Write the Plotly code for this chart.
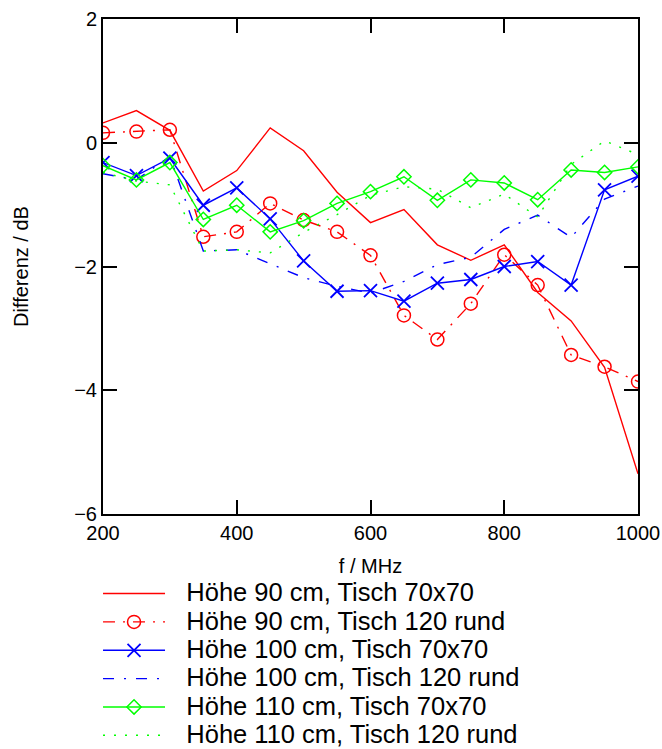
import plotly.graph_objects as go

# Frequency points (MHz)
freq = [200, 250, 300, 350, 400, 450, 500, 550, 600, 650, 700, 750, 800, 850, 900, 950, 1000]

# Level difference in dB for each height / table configuration
h90_t70 = [0.32, 0.52, 0.20, -0.78, -0.45, 0.24, -0.13, -0.80, -1.29, -1.08, -1.65, -1.90, -1.65, -2.42, -2.88, -3.63, -5.35]
h90_t120 = [0.16, 0.18, 0.21, -1.52, -1.44, -0.98, -1.25, -1.44, -1.82, -2.79, -3.18, -2.60, -1.81, -2.30, -3.43, -3.62, -3.86]
h100_t70 = [-0.32, -0.53, -0.25, -1.01, -0.73, -1.23, -1.91, -2.40, -2.39, -2.56, -2.27, -2.21, -2.00, -1.92, -2.30, -0.76, -0.54]
h100_t120 = [-0.50, -0.60, -0.22, -1.75, -1.73, -1.96, -2.18, -2.32, -2.43, -2.24, -1.97, -1.85, -1.40, -1.17, -1.53, -0.91, -0.70]
h110_t70 = [-0.37, -0.60, -0.32, -1.24, -1.01, -1.44, -1.26, -0.98, -0.79, -0.55, -0.93, -0.60, -0.65, -0.92, -0.44, -0.48, -0.39]
h110_t120 = [-0.48, -0.62, -0.68, -1.75, -1.73, -1.78, -1.45, -1.16, -0.85, -0.71, -0.75, -1.05, -0.83, -1.20, -0.35, 0.03, -0.19]

names = [
    "Höhe 90 cm, Tisch 70x70",
    "Höhe 90 cm, Tisch 120 rund",
    "Höhe 100 cm, Tisch 70x70",
    "Höhe 100 cm, Tisch 120 rund",
    "Höhe 110 cm, Tisch 70x70",
    "Höhe 110 cm, Tisch 120 rund",
]

x_ticks = [200, 400, 600, 800, 1000]
y_ticks = [2, 0, -2, -4, -6]

RED = "#ff0000"
BLUE = "#0000ff"
GREEN = "#00ff00"
FONT = "Liberation Sans, Arial, sans-serif"


def legend_label(text):
    # larger legend text while keeping the compact row spacing of the legend font
    return "\u00a0\u00a0\u00a0<span style='font-size:25.5px'>" + text + "</span>"


fig = go.Figure()

fig.add_trace(go.Scatter(
    x=freq, y=h90_t70, name=legend_label(names[0]), mode="lines",
    line=dict(color=RED, width=1.4)))
fig.add_trace(go.Scatter(
    x=freq, y=h90_t120, name=legend_label(names[1]), mode="lines+markers",
    line=dict(color=RED, width=1.4, dash="12px,8px,2px,8px"),
    marker=dict(symbol="circle-open", size=13, color=RED, line=dict(width=1.5))))
fig.add_trace(go.Scatter(
    x=freq, y=h100_t70, name=legend_label(names[2]), mode="lines+markers",
    line=dict(color=BLUE, width=1.4),
    marker=dict(symbol="x-thin-open", size=13, color=BLUE, line=dict(width=1.8, color=BLUE))))
fig.add_trace(go.Scatter(
    x=freq, y=h100_t120, name=legend_label(names[3]), mode="lines",
    line=dict(color=BLUE, width=1.4, dash="11px,10px,2px,10px")))
fig.add_trace(go.Scatter(
    x=freq, y=h110_t70, name=legend_label(names[4]), mode="lines+markers",
    line=dict(color=GREEN, width=1.4),
    marker=dict(symbol="diamond-open", size=11, color=GREEN, line=dict(width=1.5))))
fig.add_trace(go.Scatter(
    x=freq, y=h110_t120, name=legend_label(names[5]), mode="lines",
    line=dict(color=GREEN, width=1.4, dash="2px,9px")))

axis_common = dict(
    showgrid=False, zeroline=False,
    showline=True, linecolor="black", linewidth=2, mirror="ticks",
    ticks="inside", ticklen=14, tickwidth=1.5, tickcolor="black",
    tickfont=dict(family=FONT, size=20, color="black"),
)

fig.update_xaxes(
    range=[200, 1000], tickvals=x_ticks, ticktext=[str(v) for v in x_ticks],
    title=dict(text="f / MHz", font=dict(family=FONT, size=20, color="black"), standoff=16),
    **axis_common)
fig.update_yaxes(
    range=[-6, 2], tickvals=y_ticks,
    title=dict(text="Differenz / dB", font=dict(family=FONT, size=20, color="black"), standoff=40),
    **axis_common)

fig.update_layout(
    width=662, height=749,
    margin=dict(l=103, r=24, t=19, b=235, autoexpand=False),
    paper_bgcolor="white", plot_bgcolor="white",
    font=dict(family=FONT, color="black"),
    showlegend=True,
    legend=dict(
        x=-0.0093, xanchor="left", y=-0.122, yanchor="top",
        font=dict(family=FONT, size=19.5, color="black"),
        itemwidth=62, tracegroupgap=0,
        bgcolor="rgba(0,0,0,0)", borderwidth=0,
    ),
)

fig.write_html("out.html")
